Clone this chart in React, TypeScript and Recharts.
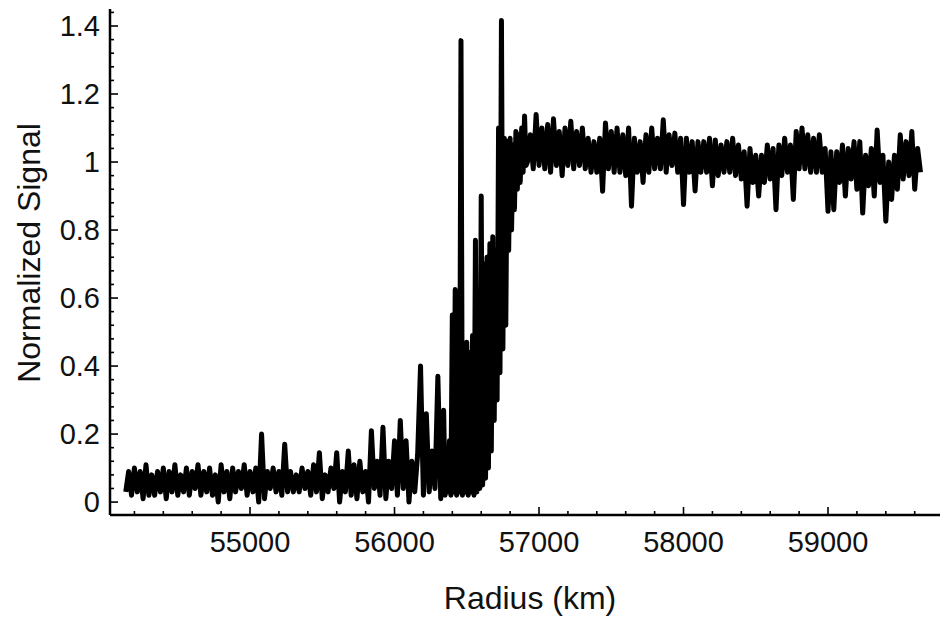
import React from "react";
import { LineChart, Line, XAxis, YAxis } from "recharts";

// radius samples (km); finer sampling across the ring edge
const RADIUS_KM = [
  54140, 54160, 54180, 54200, 54220, 54240, 54260, 54280, 54300, 54320,
  54340, 54360, 54380, 54400, 54420, 54440, 54460, 54480, 54500, 54520,
  54540, 54560, 54580, 54600, 54620, 54640, 54660, 54680, 54700, 54720,
  54740, 54760, 54780, 54800, 54820, 54840, 54860, 54880, 54900, 54920,
  54940, 54960, 54980, 55000, 55020, 55040, 55060, 55080, 55100, 55120,
  55140, 55160, 55180, 55200, 55220, 55240, 55260, 55280, 55300, 55320,
  55340, 55360, 55380, 55400, 55420, 55440, 55460, 55480, 55500, 55520,
  55540, 55560, 55580, 55600, 55620, 55640, 55660, 55680, 55700, 55720,
  55740, 55760, 55780, 55800, 55820, 55840, 55860, 55880, 55900, 55920,
  55940, 55960, 55980, 56000, 56020, 56040, 56060, 56080, 56100, 56120,
  56140, 56160, 56180, 56200, 56220, 56240, 56260, 56280, 56300, 56320,
  56340, 56350, 56360, 56370, 56380, 56390, 56400, 56410, 56420, 56430,
  56440, 56450, 56460, 56470, 56480, 56490, 56500, 56510, 56520, 56530,
  56540, 56550, 56560, 56570, 56580, 56590, 56600, 56610, 56620, 56630,
  56640, 56650, 56660, 56670, 56680, 56690, 56700, 56710, 56720, 56730,
  56740, 56750, 56760, 56770, 56780, 56790, 56800, 56810, 56820, 56830,
  56840, 56850, 56860, 56870, 56880, 56890, 56900, 56910, 56920,
  56940, 56960, 56980, 57000, 57020, 57040, 57060, 57080, 57100, 57120,
  57140, 57160, 57180, 57200, 57220, 57240, 57260, 57280, 57300, 57320,
  57340, 57360, 57380, 57400, 57420, 57440, 57460, 57480, 57500, 57520,
  57540, 57560, 57580, 57600, 57620, 57640, 57660, 57680, 57700, 57720,
  57740, 57760, 57780, 57800, 57820, 57840, 57860, 57880, 57900, 57920,
  57940, 57960, 57980, 58000, 58020, 58040, 58060, 58080, 58100, 58120,
  58140, 58160, 58180, 58200, 58220, 58240, 58260, 58280, 58300, 58320,
  58340, 58360, 58380, 58400, 58420, 58440, 58460, 58480, 58500, 58520,
  58540, 58560, 58580, 58600, 58620, 58640, 58660, 58680, 58700, 58720,
  58740, 58760, 58780, 58800, 58820, 58840, 58860, 58880, 58900, 58920,
  58940, 58960, 58980, 59000, 59020, 59040, 59060, 59080, 59100, 59120,
  59140, 59160, 59180, 59200, 59220, 59240, 59260, 59280, 59300, 59320,
  59340, 59360, 59380, 59400, 59420, 59440, 59460, 59480, 59500, 59520,
  59540, 59560, 59580, 59600, 59620, 59640,
];

// normalized signal
const SIGNAL = [
  0.03, 0.09, 0.02, 0.10, 0.03, 0.09, 0.01, 0.11, 0.02, 0.08,
  0.02, 0.09, 0.03, 0.10, 0.01, 0.09, 0.03, 0.11, 0.02, 0.08,
  0.03, 0.10, 0.02, 0.09, 0.04, 0.11, 0.02, 0.09, 0.03, 0.10,
  0.02, 0.08, 0.00, 0.11, 0.03, 0.09, 0.01, 0.10, 0.03, 0.09,
  0.04, 0.11, 0.02, 0.09, 0.03, 0.10, 0.00, 0.20, 0.01, 0.09,
  0.04, 0.10, 0.03, 0.09, 0.02, 0.17, 0.03, 0.09, 0.03, 0.08,
  0.03, 0.10, 0.04, 0.09, 0.02, 0.11, 0.03, 0.145, 0.01, 0.08,
  0.03, 0.10, 0.04, 0.145, 0.00, 0.09, 0.03, 0.15, 0.02, 0.11,
  0.01, 0.12, 0.03, 0.09, 0.00, 0.21, 0.04, 0.12, 0.02, 0.22,
  0.01, 0.12, 0.04, 0.18, 0.02, 0.24, 0.04, 0.18, 0.00, 0.12,
  0.03, 0.14, 0.40, 0.02, 0.26, 0.03, 0.15, 0.04, 0.37, 0.01,
  0.27, 0.02, 0.15, 0.03, 0.18, 0.02, 0.55, 0.03, 0.625, 0.02,
  0.50, 0.03, 1.357, 0.02, 0.46, 0.03, 0.47, 0.02, 0.44, 0.03,
  0.49, 0.02, 0.77, 0.03, 0.62, 0.04, 0.90, 0.05, 0.70, 0.07,
  0.72, 0.10, 0.76, 0.15, 0.78, 0.24, 0.74, 0.30, 1.10, 0.38,
  1.416, 0.45, 1.07, 0.52, 1.06, 0.74, 1.07, 0.80, 1.05, 0.86,
  1.09, 0.92, 1.08, 0.94, 1.10, 0.97, 1.135, 0.99, 1.00,
  1.08, 0.98, 1.14, 0.99, 1.10, 0.98, 1.11, 0.97, 1.127, 0.99,
  1.09, 0.96, 1.10, 0.99, 1.12, 0.98, 1.09, 0.99, 1.10, 0.98,
  1.07, 0.97, 1.06, 0.97, 1.07, 0.914, 1.115, 0.98, 1.09, 0.97,
  1.10, 0.97, 1.08, 0.96, 1.10, 0.87, 1.07, 0.97, 1.06, 0.94,
  1.08, 0.97, 1.10, 0.98, 1.07, 0.98, 1.124, 0.97, 1.08, 0.99,
  1.085, 0.97, 1.07, 0.875, 1.07, 0.97, 1.06, 0.915, 1.06, 0.97,
  1.06, 0.97, 1.07, 0.93, 1.065, 0.96, 1.05, 0.97, 1.06, 0.97,
  1.07, 0.96, 1.05, 0.95, 1.03, 0.87, 1.04, 0.94, 1.02, 0.90,
  1.02, 0.94, 1.05, 0.95, 1.04, 0.86, 1.05, 0.96, 1.07, 0.97,
  1.05, 0.89, 1.09, 0.98, 1.10, 0.98, 1.08, 0.97, 1.07, 0.97,
  1.08, 0.97, 1.04, 0.855, 1.03, 0.86, 1.03, 0.94, 1.05, 0.90,
  1.04, 0.95, 1.06, 0.92, 1.06, 0.85, 1.02, 0.93, 1.04, 0.90,
  1.094, 0.94, 1.02, 0.826, 1.00, 0.89, 1.02, 0.92, 1.08, 0.95,
  1.06, 0.96, 1.09, 0.92, 1.04, 0.97,
];

const X_MAJOR = [55000, 56000, 57000, 58000, 59000];
const X_TICKS = [
  54200, 54400, 54600, 54800, 55000, 55200, 55400, 55600, 55800, 56000,
  56200, 56400, 56600, 56800, 57000, 57200, 57400, 57600, 57800, 58000,
  58200, 58400, 58600, 58800, 59000, 59200, 59400, 59600,
];
const Y_MAJOR = [0, 0.2, 0.4, 0.6, 0.8, 1, 1.2, 1.4];
const Y_TICKS = [
  0, 0.04, 0.08, 0.12, 0.16, 0.2, 0.24, 0.28, 0.32, 0.36, 0.4, 0.44, 0.48,
  0.52, 0.56, 0.6, 0.64, 0.68, 0.72, 0.76, 0.8, 0.84, 0.88, 0.92, 0.96, 1,
  1.04, 1.08, 1.12, 1.16, 1.2, 1.24, 1.28, 1.32, 1.36, 1.4, 1.44,
];

const data = RADIUS_KM.map((r, i) => ({ r, s: SIGNAL[i] }));

const FONT = "'Liberation Sans', Arial, Helvetica, sans-serif";
const frame = { stroke: "#000", strokeWidth: 2.5 };

const BottomTick = (props: any) => {
  const { x, y, payload } = props;
  const major = X_MAJOR.includes(payload.value);
  return (
    <g>
      <line x1={x} y1={y} x2={x} y2={y - (major ? 8 : 4)} stroke="#000" strokeWidth={1.6} />
      {major && (
        <text x={x} y={y + 27} textAnchor="middle" dominantBaseline="central"
          fontFamily={FONT} fontSize={29} fill="#111">{payload.value}</text>
      )}
    </g>
  );
};

const TopTick = (props: any) => {
  const { x, y, payload } = props;
  const major = X_MAJOR.includes(payload.value);
  return <line x1={x} y1={y} x2={x} y2={y + (major ? 8 : 4)} stroke="#000" strokeWidth={1.6} />;
};

const LeftTick = (props: any) => {
  const { x, y, payload } = props;
  const major = Y_MAJOR.includes(payload.value);
  return (
    <g>
      <line x1={x} y1={y} x2={x + (major ? 8 : 4)} y2={y} stroke="#000" strokeWidth={1.6} />
      {major && (
        <text x={x - 10} y={y} textAnchor="end" dominantBaseline="central"
          fontFamily={FONT} fontSize={29} fill="#111">{String(payload.value)}</text>
      )}
    </g>
  );
};

const RightTick = (props: any) => {
  const { x, y, payload } = props;
  const major = Y_MAJOR.includes(payload.value);
  return <line x1={x} y1={y} x2={x - (major ? 8 : 4)} y2={y} stroke="#000" strokeWidth={1.6} />;
};

const XTitle = (props: any) => {
  const vb = props.viewBox;
  return (
    <text x={vb.x + vb.width / 2 + 5} y={598} textAnchor="middle" dominantBaseline="central"
      fontFamily={FONT} fontSize={32} fill="#111">Radius (km)</text>
  );
};

const YTitle = () => (
  <text x={29} y={253} textAnchor="middle" dominantBaseline="central"
    transform="rotate(-90 29 253)" fontFamily={FONT} fontSize={32} fill="#111">Normalized Signal</text>
);

export default function App() {
  return (
    <div style={{ position: "absolute", left: 0, top: 0, width: 942, height: 623, background: "#fff" }}>
      <LineChart width={942} height={623} data={data} margin={{ top: 9, right: 2, left: 0, bottom: 0 }}>
        <XAxis dataKey="r" type="number" domain={[54031, 59775]} allowDataOverflow
          ticks={X_TICKS} interval={0} tickSize={0} tickMargin={0} tickLine={false}
          axisLine={frame} tick={<BottomTick />} height={108} label={<XTitle />} />
        <XAxis xAxisId="top" orientation="top" type="number" domain={[54031, 59775]} allowDataOverflow
          ticks={X_TICKS} interval={0} tickSize={0} tickMargin={0} tickLine={false}
          axisLine={frame} tick={<TopTick />} height={0} />
        <YAxis type="number" domain={[-0.038, 1.45]} allowDataOverflow
          ticks={Y_TICKS} interval={0} tickSize={0} tickMargin={0} tickLine={false}
          axisLine={frame} tick={<LeftTick />} width={110} label={<YTitle />} />
        <YAxis yAxisId="right" orientation="right" type="number" domain={[-0.038, 1.45]} allowDataOverflow
          ticks={Y_TICKS} interval={0} tickSize={0} tickMargin={0} tickLine={false}
          axisLine={frame} tick={<RightTick />} width={0} />
        <Line dataKey="s" type="linear" stroke="#000" strokeWidth={5} strokeLinejoin="round"
          dot={false} isAnimationActive={false} />
      </LineChart>
    </div>
  );
}
